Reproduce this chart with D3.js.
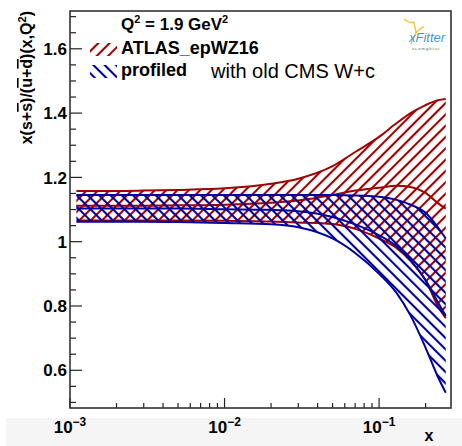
<!DOCTYPE html>
<html><head><meta charset="utf-8">
<script src="https://cdn.jsdelivr.net/npm/d3@7"></script>
<style>body{margin:0;background:#fff}svg{display:block}</style>
</head><body><svg id="c" width="462" height="446"></svg>
<script>
// ---- data ----
const xs = [0.0011,0.002,0.003,0.005,0.01,0.02,0.03,0.05,0.07,0.1,0.13,0.16,0.2,0.24,0.27];
const atlasUp      = [1.158,1.158,1.159,1.161,1.166,1.180,1.196,1.235,1.279,1.326,1.369,1.400,1.425,1.440,1.444];
const atlasCentral = [1.112,1.112,1.112,1.113,1.115,1.121,1.128,1.145,1.159,1.168,1.174,1.170,1.152,1.120,1.103];
const atlasDown    = [1.066,1.066,1.066,1.066,1.065,1.063,1.060,1.055,1.040,1.010,0.980,0.940,0.880,0.800,0.762];
const profUp       = [1.145,1.145,1.145,1.145,1.145,1.145,1.145,1.145,1.144,1.140,1.130,1.115,1.090,1.045,1.010];
const profCentral  = [1.103,1.103,1.103,1.103,1.101,1.099,1.095,1.077,1.054,1.020,0.985,0.942,0.880,0.812,0.770];
const profDown     = [1.062,1.062,1.062,1.061,1.058,1.054,1.045,1.010,0.965,0.900,0.840,0.770,0.670,0.580,0.530];
const yTicks = [0.6,0.8,1,1.2,1.4,1.6];
const yTickLabels = ["0.6","0.8","1","1.2","1.4","1.6"];
const xTicks = [1e-3,1e-2,1e-1];
const xTickExps = ["\u22123","\u22122","\u22121"];
const seriesNames = ["ATLAS_epWZ16","profiled"];
const seriesColors = ["#a00000","#0000a0"];

// ---- layout ----
const L=70, R=451, T=11, B=408;
const svg = d3.select("#c");
const x = d3.scaleLog().domain([1e-3,0.292]).range([L,R]);
const y = d3.scaleLinear().domain([0.4827,1.7176]).range([B,T]);
const defs = svg.append("defs");

svg.append("rect").attr("x",6).attr("y",418).attr("width",456).attr("height",28).attr("fill","#f5f5f5");

function hatch(id,color,angle){
  const p = defs.append("pattern").attr("id",id).attr("patternUnits","userSpaceOnUse")
    .attr("width",8).attr("height",8).attr("patternTransform",`rotate(${angle})`);
  p.append("line").attr("x1",4).attr("y1",-2).attr("x2",4).attr("y2",10)
    .attr("stroke",color).attr("stroke-width",2.1);
}
hatch("hr",seriesColors[0],45);
hatch("hb",seriesColors[1],-45);

defs.append("clipPath").attr("id","plot").append("rect").attr("x",L).attr("y",T).attr("width",R-L).attr("height",B-T);
const g = svg.append("g").attr("clip-path","url(#plot)");

function band(up,cen,dn,pat,color){
  const d = xs.map((v,i)=>({x:v,u:up[i],c:cen[i],l:dn[i]}));
  const area = d3.area().curve(d3.curveMonotoneX).x(p=>x(p.x)).y0(p=>y(p.l)).y1(p=>y(p.u));
  g.append("path").attr("d",area(d)).attr("fill",`url(#${pat})`);
  ["u","c","l"].forEach(k=>{
    const line = d3.line().curve(d3.curveMonotoneX).x(p=>x(p.x)).y(p=>y(p[k]));
    g.append("path").attr("d",line(d)).attr("fill","none").attr("stroke",color).attr("stroke-width",2);
  });
}
band(atlasUp,atlasCentral,atlasDown,"hr",seriesColors[0]);
band(profUp,profCentral,profDown,"hb",seriesColors[1]);

// ---- axes ----
const ax = svg.append("g").attr("stroke","#222").attr("stroke-width",1.2);
// y ticks
const yMinor = d3.range(0.5,1.70001,0.05).map(v=>+v.toFixed(2));
yMinor.forEach(v=>{
  const major = yTicks.some(t=>Math.abs(t-v)<1e-6);
  ax.append("line").attr("x1",L).attr("x2",L+(major?12:6)).attr("y1",y(v)).attr("y2",y(v));
});
// x ticks
const xMinor = [];
[1e-3,1e-2,1e-1].forEach(dec=>{for(let k=1;k<=9;k++){const v=dec*k; if(v<=0.292) xMinor.push({v,major:k===1});}});
xMinor.forEach(t=>{
  ax.append("line").attr("x1",x(t.v)).attr("x2",x(t.v)).attr("y1",B).attr("y2",B-(t.major?10:5));
});
svg.append("rect").attr("x",L).attr("y",T).attr("width",R-L).attr("height",B-T)
  .attr("fill","none").attr("stroke","#333").attr("stroke-width",1.6);

const font = "Liberation Sans, Arial, Helvetica, sans-serif";
svg.selectAll(".yl").data(yTicks).enter().append("text")
  .attr("x",67).attr("y",d=>y(d)).attr("dy","0.36em").attr("text-anchor","end")
  .attr("font-family",font).attr("font-weight","bold").attr("font-size",17)
  .text((d,i)=>yTickLabels[i]);

xTicks.forEach((t,i)=>{
  const tx = svg.append("text").attr("x",x(t)).attr("y",433).attr("text-anchor","middle")
    .attr("font-family",font).attr("font-weight","bold").attr("font-size",17);
  tx.append("tspan").text("10");
  tx.append("tspan").attr("dy",-7).attr("font-size",12).text(xTickExps[i]);
});
svg.append("text").attr("x",429).attr("y",441).attr("text-anchor","middle")
  .attr("font-family",font).attr("font-weight","bold").attr("font-size",16).text("x");

// y title
const yt = svg.append("text").attr("transform","translate(32,11) rotate(-90)").attr("text-anchor","end")
  .attr("font-family",font).attr("font-weight","bold").attr("font-size",16);
yt.append("tspan").text("x(s+");
yt.append("tspan").attr("text-decoration","overline").text("s");
yt.append("tspan").text(")/(");
yt.append("tspan").attr("text-decoration","overline").text("u");
yt.append("tspan").text("+");
yt.append("tspan").attr("text-decoration","overline").text("d");
yt.append("tspan").text(")(x,Q");
yt.append("tspan").attr("dy",-6).attr("font-size",11).text("2");
yt.append("tspan").attr("dy",6).text(")");

// ---- legend ----
const q = svg.append("text").attr("x",121).attr("y",30).attr("font-family",font).attr("font-weight","bold").attr("font-size",17);
q.append("tspan").text("Q");
q.append("tspan").attr("dy",-7).attr("font-size",11).text("2");
q.append("tspan").attr("dy",7).text(" = 1.9 GeV");
q.append("tspan").attr("dy",-7).attr("font-size",11).text("2");

[["hr",43],["hb",65]].forEach(([pat,yy],i)=>{
  svg.append("rect").attr("x",90).attr("y",yy).attr("width",27).attr("height",13).attr("fill",`url(#${pat})`);
  svg.append("text").attr("x",121).attr("y",yy+11).attr("font-family",font).attr("font-weight","bold")
    .attr("font-size",18).text(seriesNames[i]);
});
svg.append("text").attr("x",211).attr("y",78).attr("font-family",font).attr("font-size",20).text("with old CMS W+c");

// ---- xFitter logo ----
const lg = svg.append("g");
lg.append("path").attr("d","M404,19 Q410,24 414,22 M414,22 L416,33 M416,33 Q420,28 424,27 M416,33 Q413,38 411,44")
  .attr("fill","none").attr("stroke","#f2c94c").attr("stroke-width",1.5);
lg.append("text").attr("x",409).attr("y",42).attr("font-family",font).attr("font-style","italic")
  .attr("font-size",13).attr("fill","#3d9ad8").text("xFitter");
lg.append("text").attr("x",412).attr("y",50).attr("font-family",font).attr("font-size",4).attr("fill","#666").text("z.c.o.m.g.h.t.u.t");
</script></body></html>
